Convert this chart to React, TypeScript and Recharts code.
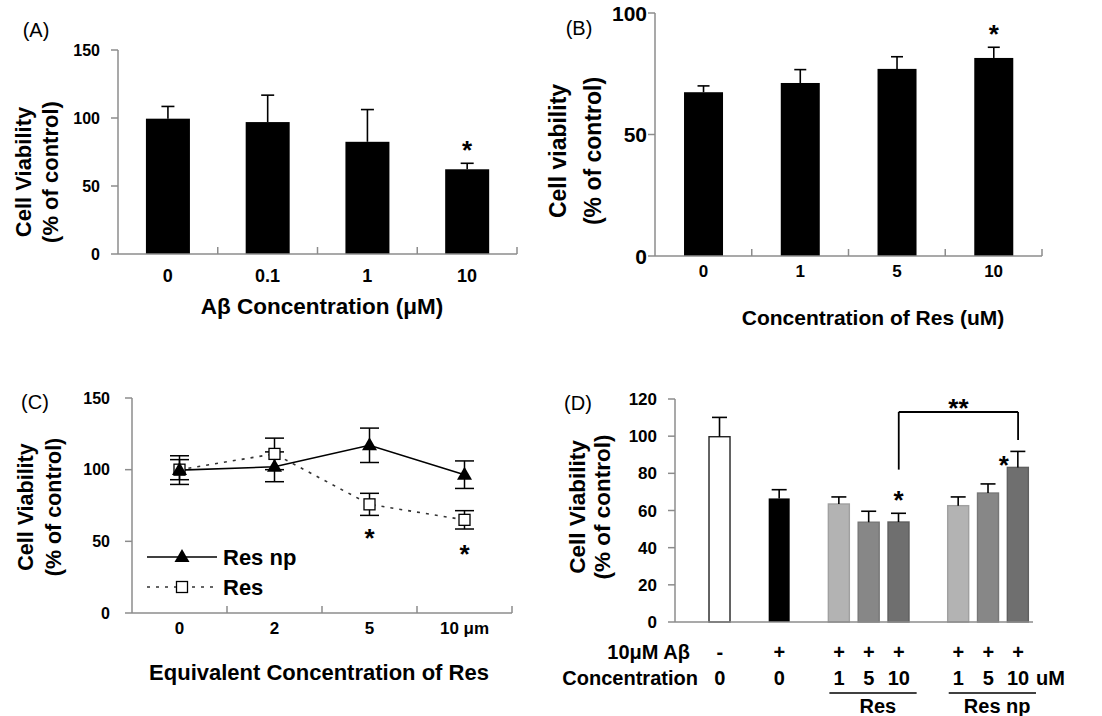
import React from 'react';
import {
  BarChart,
  Bar,
  Cell,
  ComposedChart,
  Line,
  ErrorBar,
  XAxis,
  YAxis,
  Legend,
  ReferenceLine,
} from 'recharts';

const FONT = '"Liberation Sans", Arial, Helvetica, sans-serif';
const AXIS = '#8c8c8c';

// (A) Aβ dose response
const A_CATS = ['0', '0.1', '1', '10'];
const A_VALUES = [99.5, 97, 82.5, 62.3];
const A_ERR = [9, 19.8, 23.7, 4.4];
const A_SIG = ['', '', '', '*'];

// (B) Res dose response
const B_CATS = ['0', '1', '5', '10'];
const B_VALUES = [67.4, 71.2, 77, 81.5];
const B_ERR = [2.6, 5.5, 5, 4.4];
const B_SIG = ['', '', '', '*'];

// (C) Res np vs Res
const C_CATS = ['0', '2', '5', '10 μm'];
const C_RESNP = [99.7, 102, 117, 96.5];
const C_RESNP_ERR = [10, 10.4, 12, 9.6];
const C_RES = [100, 111, 75.8, 65];
const C_RES_ERR = [7, 11, 7.7, 6.4];
const C_SIG = ['', '', '*', '*'];

// (D) protection against 10 μM Aβ
const D_KEYS = ['s0', 'ctrl', 's2', 'ab', 's4', 'r1', 'r5', 'r10', 's8', 'n1', 'n5', 'n10'];
const D_AB = ['', '-', '', '+', '', '+', '+', '+', '', '+', '+', '+'];
const D_CONC = ['', '0', '', '0', '', '1', '5', '10', '', '1', '5', '10'];
const D_VALUES = [null, 99.7, null, 66.5, null, 63.5, 53.7, 53.8, null, 62.6, 69.4, 83.2];
const D_ERR = [0, 10.4, 0, 4.7, 0, 3.8, 5.9, 4.7, 0, 4.7, 4.9, 8.6];
const D_SIG = ['', '', '', '', '', '', '', '*', '', '', '', '*'];
const D_GROUPS = [
  { start: 'r1', end: 'r10', label: 'Res' },
  { start: 'n1', end: 'n10', label: 'Res np' },
];
const D_BRACKET_Y = [113, 82, 98]; // top, left end, right end

const D_FILL = ['#000', '#fff', '#000', '#000', '#000', '#b3b3b3', '#878787', '#6f6f6f', '#000', '#b3b3b3', '#878787', '#6f6f6f'];
const D_STROKE = ['none', '#222', 'none', 'none', 'none', '#a0a0a0', '#777', '#5f5f5f', 'none', '#a0a0a0', '#777', '#5f5f5f'];

const aData = A_CATS.map((cat, i) => ({ cat, value: A_VALUES[i], err: A_ERR[i], sig: A_SIG[i] }));
const bData = B_CATS.map((cat, i) => ({ cat, value: B_VALUES[i], err: B_ERR[i], sig: B_SIG[i] }));
const cData = C_CATS.map((cat, i) => ({
  cat,
  resnp: C_RESNP[i],
  resnpErr: C_RESNP_ERR[i],
  res: C_RES[i],
  resErr: C_RES_ERR[i],
  sig: C_SIG[i],
}));
const dData = D_KEYS.map((key, i) => ({
  key,
  value: D_VALUES[i],
  err: D_ERR[i],
  sig: D_SIG[i],
}));

const starStyle = { fontSize: 26, fontWeight: 'bold' as const, fontFamily: FONT, fill: '#000' };

// bar + upper error bar + significance star
function makeBarShape(capHalf: number, besideKeys: string[] = []) {
  return (props: any) => {
    const { x, y, width, height, fill, stroke, payload } = props;
    if (payload == null || payload.value == null || !height) return <g />;
    const unit = height / payload.value;
    const top = y - payload.err * unit;
    const cx = x + width / 2;
    const beside = besideKeys.includes(payload.key);
    return (
      <g>
        <rect
          x={x}
          y={y}
          width={width}
          height={height}
          fill={fill}
          stroke={stroke && stroke !== 'none' ? stroke : 'none'}
          strokeWidth={1.4}
        />
        <line x1={cx} x2={cx} y1={y} y2={top} stroke="#000" strokeWidth={1.6} />
        <line x1={cx - capHalf} x2={cx + capHalf} y1={top} y2={top} stroke="#000" strokeWidth={1.6} />
        {payload.sig ? (
          beside ? (
            <text x={cx - 14} y={y + 7} textAnchor="middle" {...starStyle}>
              {payload.sig}
            </text>
          ) : (
            <text x={cx} y={top - 4} textAnchor="middle" {...starStyle}>
              {payload.sig}
            </text>
          )
        ) : null}
      </g>
    );
  };
}

// category tick with Excel-like boundary marks pointing up
function CatTick(props: any) {
  const { x, y, payload, width, visibleTicksCount, labelDy, size = 17 } = props;
  const half = width && visibleTicksCount ? width / visibleTicksCount / 2 : 48;
  return (
    <g>
      <line x1={x + half} x2={x + half} y1={y} y2={y - 7} stroke={AXIS} strokeWidth={1.5} />
      <text x={x} y={y + labelDy} textAnchor="middle" fontSize={size} fontWeight="bold" fontFamily={FONT} fill="#000">
        {payload.value}
      </text>
    </g>
  );
}

function ValueTick(props: any) {
  const { x, y, payload, size } = props;
  return (
    <text x={x} y={y + size * 0.36} textAnchor="end" fontSize={size} fontWeight="bold" fontFamily={FONT} fill="#000">
      {payload.value}
    </text>
  );
}

function DTick(props: any) {
  const { x, y, index, width, visibleTicksCount } = props;
  const half = width && visibleTicksCount ? width / visibleTicksCount / 2 : 15;
  const t = { fontSize: 20, fontWeight: 'bold' as const, fontFamily: FONT, fill: '#000' };
  const key = D_KEYS[index];
  const group = D_GROUPS.find((g) => g.start === key);
  return (
    <g>
      {index === 0 && (
        <>
          <text x={x} y={y + 37} textAnchor="end" {...t}>10μM Aβ</text>
          <text x={x + 8} y={y + 63} textAnchor="end" {...t}>Concentration</text>
        </>
      )}
      <text x={x} y={y + 37} textAnchor="middle" {...t}>{D_AB[index]}</text>
      <text x={x} y={y + 63} textAnchor="middle" {...t}>{D_CONC[index]}</text>
      {index === D_KEYS.length - 1 && (
        <text x={x + half + 3} y={y + 63} textAnchor="start" {...t}>uM</text>
      )}
      {group && (
        <>
          <line x1={x - half * 0.65} x2={x + half * 5.2} y1={y + 71} y2={y + 71} stroke="#000" strokeWidth={1.3} />
          <text x={x + half * 2.6} y={y + 91} textAnchor="middle" {...t}>{group.label}</text>
        </>
      )}
    </g>
  );
}

const Triangle = ({ cx, cy }: { cx: number; cy: number }) => (
  <polygon points={`${cx},${cy - 8} ${cx - 7.5},${cy + 5} ${cx + 7.5},${cy + 5}`} fill="#000" />
);
const Square = ({ cx, cy }: { cx: number; cy: number }) => (
  <rect x={cx - 5.5} y={cy - 5.5} width={11} height={11} fill="#fff" stroke="#000" strokeWidth={1.3} />
);

const CLegend = () => (
  <svg width={150} height={62} style={{ overflow: 'visible' }}>
    <line x1={0} x2={70} y1={12} y2={12} stroke="#000" strokeWidth={1.6} />
    <Triangle cx={35} cy={12} />
    <text x={76} y={20} fontSize={22} fontWeight="bold" fontFamily={FONT}>Res np</text>
    <line x1={0} x2={70} y1={42} y2={42} stroke="#333" strokeWidth={1.6} strokeDasharray="3 6" />
    <Square cx={35} cy={42} />
    <text x={76} y={50} fontSize={22} fontWeight="bold" fontFamily={FONT}>Res</text>
  </svg>
);

const axisLine = { stroke: AXIS, strokeWidth: 1.5 };
const tickLine = { stroke: AXIS, strokeWidth: 1.5 };

function Text({ x, y, size = 20, bold = true, children }: any) {
  return (
    <div
      style={{
        position: 'absolute',
        left: x,
        top: y,
        transform: 'translate(-50%, -50%)',
        fontSize: size,
        fontWeight: bold ? 'bold' : 'normal',
        whiteSpace: 'nowrap',
        lineHeight: 1,
      }}
    >
      {children}
    </div>
  );
}

function YTitle({ x, y, gap, size, first }: any) {
  return (
    <div
      style={{
        position: 'absolute',
        left: x,
        top: y,
        transform: 'translate(-50%, -50%) rotate(-90deg)',
        fontSize: size,
        fontWeight: 'bold',
        whiteSpace: 'nowrap',
        lineHeight: `${gap}px`,
        textAlign: 'center',
      }}
    >
      <div>{first}</div>
      <div>(% of control)</div>
    </div>
  );
}

export default function App() {
  return (
    <div
      style={{
        position: 'absolute',
        left: 0,
        top: 0,
        width: 1102,
        height: 716,
        background: '#fff',
        fontFamily: FONT,
        color: '#000',
        overflow: 'hidden',
      }}
    >
      {/* (A) */}
      <div style={{ position: 'absolute', left: 0, top: 0 }}>
        <BarChart width={540} height={340} data={aData} margin={{ top: 50, right: 23, bottom: 56, left: 78 }} barCategoryGap="28%">
          <XAxis
            dataKey="cat"
            interval={0}
            tickLine={false}
            tickSize={0}
            tickMargin={0}
            axisLine={axisLine}
            tick={(p: any) => <CatTick {...p} labelDy={28} size={18} />}
          />
          <YAxis
            type="number"
            domain={[0, 150]}
            ticks={[0, 50, 100, 150]}
            width={40}
            tickSize={7}
            tickMargin={11}
            axisLine={axisLine}
            tickLine={tickLine}
            tick={(p: any) => <ValueTick {...p} size={16} />}
          />
          <Bar dataKey="value" fill="#000" isAnimationActive={false} shape={makeBarShape(6.5)} />
        </BarChart>
      </div>

      {/* (B) */}
      <div style={{ position: 'absolute', left: 540, top: 0 }}>
        <BarChart width={562} height={340} data={bData} margin={{ top: 13, right: 60, bottom: 54, left: 75 }} barCategoryGap="30%">
          <XAxis
            dataKey="cat"
            interval={0}
            tickLine={false}
            tickSize={0}
            tickMargin={0}
            axisLine={axisLine}
            tick={(p: any) => <CatTick {...p} labelDy={21} size={17} />}
          />
          <YAxis
            type="number"
            domain={[0, 100]}
            ticks={[0, 50, 100]}
            width={40}
            tickSize={7}
            tickMargin={1}
            axisLine={axisLine}
            tickLine={tickLine}
            tick={(p: any) => <ValueTick {...p} size={21} />}
          />
          <Bar dataKey="value" fill="#000" isAnimationActive={false} shape={makeBarShape(6)} />
        </BarChart>
      </div>

      {/* (C) */}
      <div style={{ position: 'absolute', left: 0, top: 360 }}>
        <ComposedChart width={540} height={356} data={cData} margin={{ top: 38, right: 28, bottom: 73, left: 92 }}>
          <XAxis
            dataKey="cat"
            scale="band"
            interval={0}
            tickLine={false}
            tickSize={0}
            tickMargin={0}
            axisLine={axisLine}
            tick={(p: any) => <CatTick {...p} labelDy={21} size={17} />}
          />
          <YAxis
            type="number"
            domain={[0, 150]}
            ticks={[0, 50, 100, 150]}
            width={40}
            tickSize={7}
            tickMargin={15}
            axisLine={axisLine}
            tickLine={tickLine}
            tick={(p: any) => <ValueTick {...p} size={16} />}
          />
          <Legend
            layout="horizontal"
            verticalAlign="middle"
            align="center"
            content={() => <CLegend />}
            wrapperStyle={{ left: 147, top: 185, width: 150, height: 62 }}
          />
          <Line
            dataKey="res"
            stroke="#333"
            strokeWidth={1.6}
            strokeDasharray="3 6"
            isAnimationActive={false}
            dot={(p: any) => <Square key={`rs${p.index}`} cx={p.cx} cy={p.cy} />}
            label={(p: any) =>
              C_SIG[p.index] ? (
                <text key={`sg${p.index}`} x={p.x} y={p.y + 43} textAnchor="middle" {...starStyle}>
                  {C_SIG[p.index]}
                </text>
              ) : (
                <g key={`sg${p.index}`} />
              )
            }
          >
            <ErrorBar dataKey="resErr" width={9.5} stroke="#000" strokeWidth={1.5} direction="y" />
          </Line>
          <Line
            dataKey="resnp"
            stroke="#000"
            strokeWidth={1.6}
            isAnimationActive={false}
            dot={(p: any) => <Triangle key={`rn${p.index}`} cx={p.cx} cy={p.cy} />}
          >
            <ErrorBar dataKey="resnpErr" width={9.5} stroke="#000" strokeWidth={1.5} direction="y" />
          </Line>
        </ComposedChart>
      </div>

      {/* (D) */}
      <div style={{ position: 'absolute', left: 540, top: 360 }}>
        <BarChart width={562} height={356} data={dData} margin={{ top: 39, right: 69, bottom: 64, left: 95 }} barCategoryGap="14%">
          <XAxis
            dataKey="key"
            interval={0}
            tickLine={false}
            tickSize={0}
            tickMargin={0}
            axisLine={axisLine}
            tick={(p: any) => <DTick {...p} />}
          />
          <YAxis
            type="number"
            domain={[0, 120]}
            ticks={[0, 20, 40, 60, 80, 100, 120]}
            width={40}
            tickSize={7}
            tickMargin={11}
            axisLine={axisLine}
            tickLine={tickLine}
            tick={(p: any) => <ValueTick {...p} size={17} />}
          />
          <Bar dataKey="value" isAnimationActive={false} shape={makeBarShape(7.5, ['n10'])}>
            {dData.map((d, i) => (
              <Cell key={d.key} fill={D_FILL[i]} stroke={D_STROKE[i]} />
            ))}
          </Bar>
          <ReferenceLine
            segment={[{ x: 'r10', y: D_BRACKET_Y[0] }, { x: 'n10', y: D_BRACKET_Y[0] }]}
            stroke="#000"
            strokeWidth={1.8}
            ifOverflow="visible"
            label={(p: any) => {
              const vb = p.viewBox || {};
              return (
                <text x={vb.x + vb.width / 2} y={vb.y + 5} textAnchor="middle" {...starStyle}>
                  **
                </text>
              );
            }}
          />
          <ReferenceLine
            segment={[{ x: 'r10', y: D_BRACKET_Y[0] }, { x: 'r10', y: D_BRACKET_Y[1] }]}
            stroke="#000"
            strokeWidth={1.8}
            ifOverflow="visible"
          />
          <ReferenceLine
            segment={[{ x: 'n10', y: D_BRACKET_Y[0] }, { x: 'n10', y: D_BRACKET_Y[2] }]}
            stroke="#000"
            strokeWidth={1.8}
            ifOverflow="visible"
          />
        </BarChart>
      </div>

      {/* panel letters and axis titles */}
      <Text x={36} y={30} size={20} bold={false}>(A)</Text>
      <Text x={579} y={28} size={20} bold={false}>(B)</Text>
      <Text x={35} y={402} size={20} bold={false}>(C)</Text>
      <Text x={578} y={403} size={20} bold={false}>(D)</Text>

      <YTitle x={37} y={172} gap={27} size={22} first="Cell  Viability" />
      <YTitle x={576} y={151} gap={35} size={23} first="Cell  viability" />
      <YTitle x={40} y={507} gap={28} size={21.5} first="Cell Viability" />
      <YTitle x={590} y={507} gap={25} size={22.5} first="Cell Viability" />

      <Text x={322} y={307} size={22.5}>Aβ Concentration (μM)</Text>
      <Text x={873} y={317} size={21}>Concentration of Res (uM)</Text>
      <Text x={319} y={673} size={22}>Equivalent Concentration of Res</Text>
    </div>
  );
}
